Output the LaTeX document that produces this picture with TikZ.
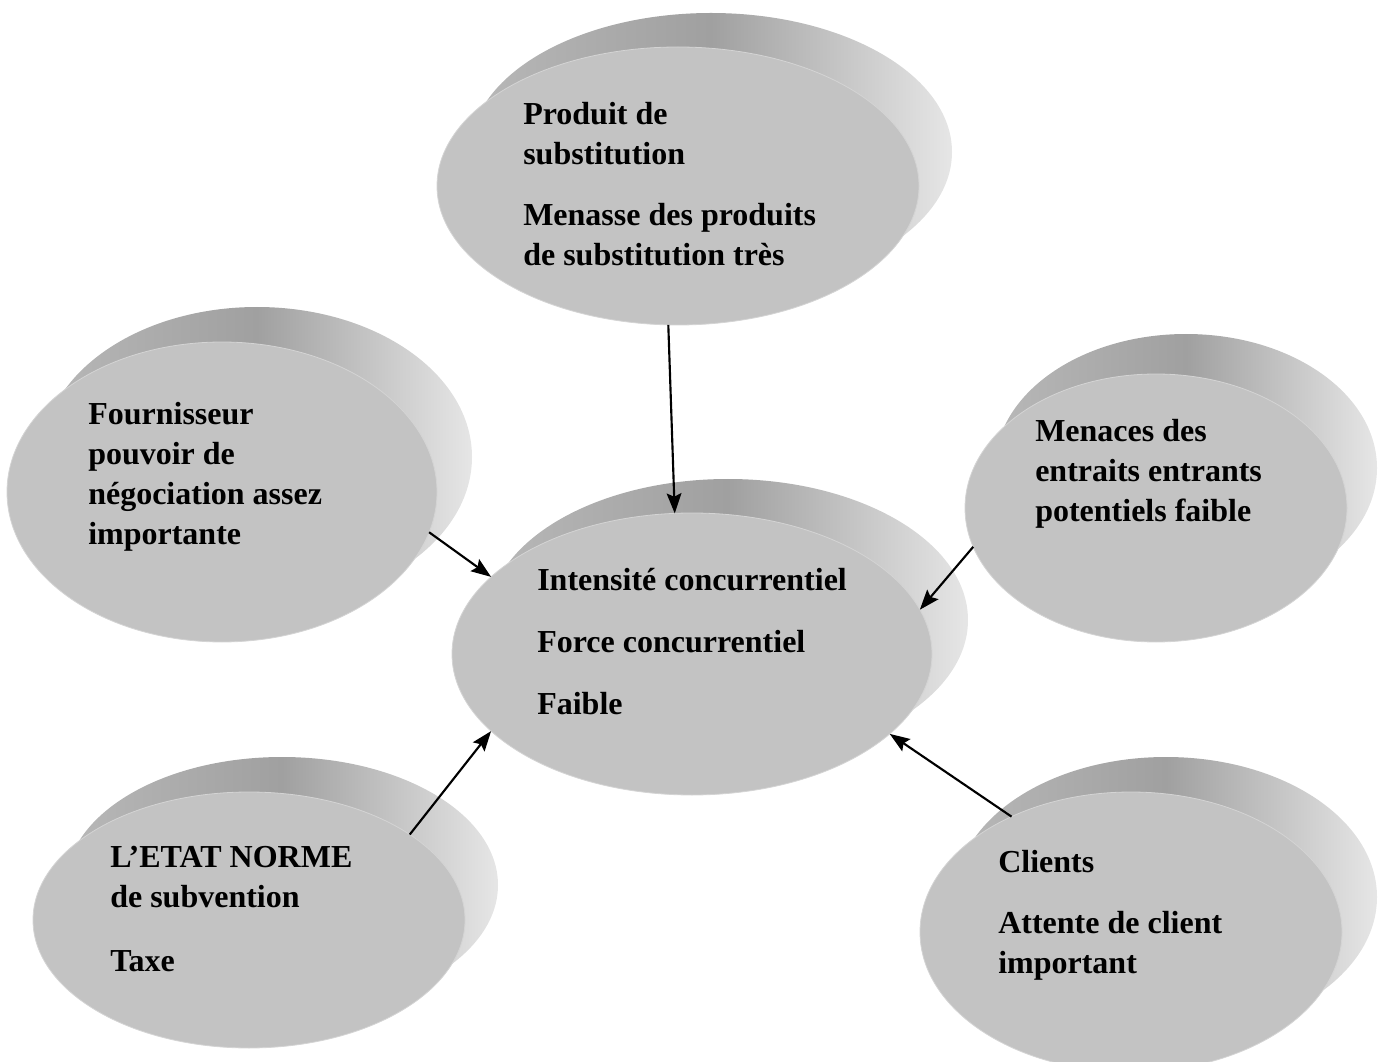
\documentclass[tikz,border=0pt]{standalone}
\usepackage{fontspec}
\setmainfont{Liberation Serif}
\usetikzlibrary{arrows.meta,shapes.geometric}
\definecolor{face}{HTML}{C3C3C3}
\definecolor{facerim}{HTML}{D4D4D4}
\definecolor{rimleft}{HTML}{B8B8B8}
\definecolor{rimdark}{HTML}{A0A0A0}
\definecolor{rimlight}{HTML}{E6E6E6}

\begin{document}
\begin{tikzpicture}[x=0.75pt,y=-0.75pt,
  dims/.style 2 args={minimum width=#1pt,minimum height=#2pt},
  rim/.style={ellipse,inner sep=0pt,outer sep=0pt,left color=rimleft,right color=rimlight,middle color=rimdark},
  disc/.style={ellipse,inner sep=0pt,outer sep=0pt,fill=face,draw=facerim,line width=0.6pt},
  para/.style={anchor=base west,align=left,inner sep=0pt,font=\bfseries\fontsize{24}{30}\selectfont},
  arr/.style={line width=1.6pt,-{Stealth[length=15pt,width=11pt,inset=2.5pt]}}]
\useasboundingbox (0,0) rectangle (1382,1062);

\node[rim,dims={361.5}{208.5}] (prodrim) at (711,152) {};
\node[disc,dims={361.5}{208.5}] (prod) at (678,186) {};
\node[rim,dims={322.5}{225}] (fournrim) at (257,457) {};
\node[disc,dims={322.5}{225}] (fourn) at (222,492) {};
\node[rim,dims={286.5}{201}] (menacrim) at (1186,468) {};
\node[disc,dims={286.5}{201}] (menac) at (1156,508) {};
\node[rim,dims={360}{211.5}] (intensrim) at (728,620) {};
\node[disc,dims={360}{211.5}] (intens) at (692,654) {};
\node[rim,dims={324}{192}] (etatrim) at (282,885) {};
\node[disc,dims={324}{192}] (etat) at (249,920) {};
\node[rim,dims={316.5}{210}] (clientrim) at (1166,897) {};
\node[disc,dims={316.5}{210}] (client) at (1131,932) {};

\node[para] (prodtxt) at (523,266) {Produit de\\substitution\\[15.75pt]Menasse des produits\\de substitution très};
\node[para] (fourntxt) at (88,544) {Fournisseur\\pouvoir de\\négociation assez\\importante};
\node[para] (menactxt) at (1035,522) {Menaces des\\entraits entrants\\potentiels faible};
\node[para] (intenstxt) at (537,714) {Intensité concurrentiel\\[16.5pt]Force concurrentiel\\[16.5pt]Faible};
\node[para] (etattxt) at (110,971) {L’ETAT NORME\\de subvention\\[18pt]Taxe};
\node[para] (clienttxt) at (998,973) {Clients\\[15.75pt]Attente de client\\important};

\draw[arr] (prod.266) -- (intens.97);
\draw[arr] (fourn.-11) -- (intens.159);
\draw[arr] (menac.192) -- (intens.11);
\draw[arr] (etat.28) -- (intens.201);
\draw[arr] (client.136) -- (intens.338);
\end{tikzpicture}
\end{document}
